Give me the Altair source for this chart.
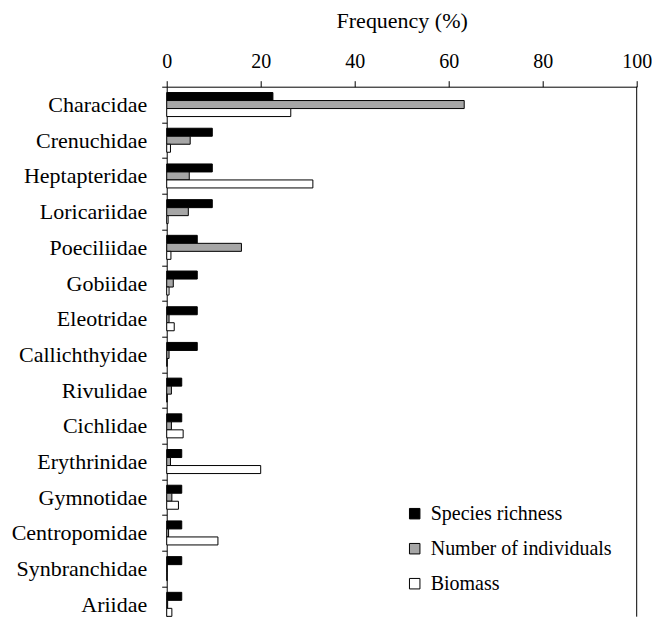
import altair as alt
import pandas as pd

families = ["Characidae", "Crenuchidae", "Heptapteridae", "Loricariidae", "Poeciliidae",
            "Gobiidae", "Eleotridae", "Callichthyidae", "Rivulidae", "Cichlidae",
            "Erythrinidae", "Gymnotidae", "Centropomidae", "Synbranchidae", "Ariidae"]
species_richness = [22.6, 9.7, 9.7, 9.7, 6.5, 6.5, 6.5, 6.5, 3.2, 3.2, 3.2, 3.2, 3.2, 3.2, 3.2]
number_of_individuals = [63.3, 5.0, 4.8, 4.6, 15.9, 1.4, 0.5, 0.5, 1.0, 1.0, 0.8, 1.1, 0.4, 0.1, 0.2]
biomass = [26.4, 0.8, 31.1, 0.3, 0.9, 0.5, 1.6, 0.1, 0.1, 3.5, 20.0, 2.5, 10.9, 0.1, 1.1]
series = ["Species richness", "Number of individuals", "Biomass"]
x_ticks = [0, 20, 40, 60, 80, 100]

rows = []
for name, vals in zip(series, [species_richness, number_of_individuals, biomass]):
    for fam, v in zip(families, vals):
        rows.append({"family": fam, "series": name, "value": v})
df = pd.DataFrame(rows)

FONT = "Liberation Serif"
W = 470
H = 530
STEP_TOTAL = 535.5

bars = alt.Chart(df).mark_bar(stroke="black", strokeWidth=1).encode(
    x=alt.X("value:Q",
            scale=alt.Scale(domain=[0, 100], nice=False),
            axis=alt.Axis(orient="top", values=x_ticks, title="Frequency (%)",
                          grid=False, tickSize=6, tickColor="black", domainColor="black",
                          labelFont=FONT, labelFontSize=20, labelColor="black",
                          labelPadding=9, labelFlush=False, labelOverlap=False,
                          titleFont=FONT, titleFontSize=22, titleFontWeight="normal",
                          titleColor="black", titlePadding=19)),
    y=alt.Y("family:N", sort=families,
            scale=alt.Scale(range=[0, STEP_TOTAL], paddingInner=0, paddingOuter=0),
            axis=alt.Axis(title=None, tickBand="extent", tickSize=5, tickColor="black",
                          domainColor="black", labelFont=FONT, labelFontSize=22,
                          labelColor="black", labelPadding=15, labelLimit=0)),
    yOffset=alt.YOffset("series:N", sort=series,
                        scale=alt.Scale(paddingInner=0, paddingOuter=0.73)),
    fill=alt.Fill("series:N", sort=series,
                  scale=alt.Scale(domain=series, range=["#000000", "#a6a6a6", "#ffffff"]),
                  legend=alt.Legend(title=None, orient="none", legendX=238, legendY=417,
                                    symbolType="square", symbolSize=110,
                                    symbolStrokeColor="black", symbolStrokeWidth=1,
                                    labelFont=FONT, labelFontSize=20, labelColor="black",
                                    labelOffset=6, rowPadding=15, labelLimit=0)),
)

border = alt.Chart(pd.DataFrame({"x": [100]})).mark_rule(color="black", strokeWidth=1).encode(
    x=alt.X("x:Q", scale=alt.Scale(domain=[0, 100], nice=False))
)

chart = alt.layer(bars, border).properties(
    width=W, height=H,
    autosize=alt.AutoSizeParams(type="none"),
    padding={"left": 158.7, "top": 78.7, "right": 15.3, "bottom": 0},
).configure_view(stroke=None).configure_legend(labelFont=FONT, labelFontSize=20)

chart.save("out.html", embed_options={"renderer": "svg", "actions": False})
